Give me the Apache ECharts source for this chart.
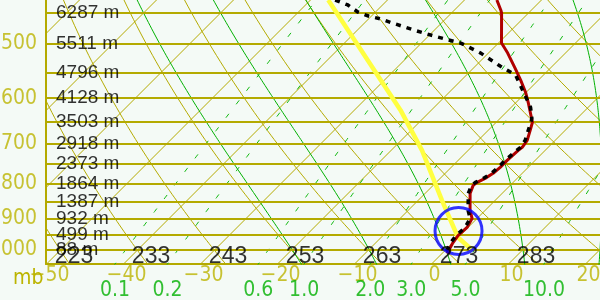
<!DOCTYPE html>
<html><head><meta charset="utf-8">
<script src="https://cdn.jsdelivr.net/npm/echarts@6/dist/echarts.min.js"></script>
<style>html,body{margin:0;padding:0;background:#f4faf6}#c{width:600px;height:300px}</style>
</head><body><div id="c"></div>
<script>
// ---- data ----
const isobars = [450,500,550,600,650,700,750,800,850,900,950,1000];
const heightLabels = ['6287 m','5511 m','4796 m','4128 m','3503 m','2918 m','2373 m','1864 m','1387 m','932 m','499 m','88 m'];
const pressureLabels = [500,600,700,800,900,1000];
const tempTicks = [-50,-40,-30,-20,-10,0,10,20];
const isotherms = [-80,-70,-60,-50,-40,-30,-20,-10,0,10,20];
const thetas = [213,223,233,243,253,263,273,283,293,303,313,323,333,343];
const thetaLabels = [223,233,243,253,263,273,283];
const moistThetaW = [-20,-10,0,10,20];
const mixLines = [0.1,0.2,0.6,1.0,2.0,3.0,5.0,10.0,20.0];
const mixLabels = ['0.1','0.2','0.6','1.0','2.0','3.0','5.0','10.0'];

const tempP = [431,445.7,450.3,498.4,515.5,542.2,564.8,588.2,610.5,640,651,668.9,691.8,708.3,715.6,740.2,757.9,773.4,786.6,797.3,805.4,827.5,876.5,900.5,928.3,953.8,976.6,1013.6];
const tempT = [-25.8,-24.0,-23.5,-19.6,-17.5,-14.6,-12.3,-10.1,-8.3,-6.1,-5.3,-4.55,-3.64,-3.38,-3.5,-3.64,-3.64,-3.77,-4.16,-4.68,-4.8,-4.16,-1.95,-0.65,-0.13,-0.26,0,0.65];
const dewP = [431,438.3,448.8,454.9,459.5,465.7,476.9,488.3,498.4,515.5,538.6,555.3,574.4,598.2,618.8,642.2,651,668.9,691.8,708.3,715.6,740.2,757.9,773.4,786.6,797.3,805.4,827.5,876.5,900.5,928.3,953.8,976.6,1013.6];
const dewT = [-46.8,-44.5,-42.3,-40.4,-38.4,-36.4,-32.7,-28.7,-24.9,-21.0,-16.8,-13.6,-11.7,-9.4,-7.5,-5.9,-5.5,-4.8,-3.9,-3.6,-3.7,-3.9,-3.9,-4.0,-4.4,-4.9,-5.0,-4.4,-2.2,-0.9,-0.4,-0.5,-0.3,0.4];
const parcelP = [1003.4,960.2,847.4,715.6,625.0,431];
const parcelT = [3.6,0,-6.9,-16.0,-24.0,-47.7];
const lclP = [939.4];
const lclT = [-0.78];

// ---- diagram geometry ----
const P_TOP = 431, P_BOT = 1050;
const X_MIN = -51.95, X_MAX = 20.0;
const SKEW = 38.5;
function sx(T, p){ return T + SKEW*Math.log(1000/p); }
function esat(T){ return 6.112*Math.exp(17.67*T/(T+243.5)); }
function tdFromW(w,p){ const e=w*p/(622+w); const L=Math.log(e/6.112); return 243.5*L/(17.67-L); }
function moistGrad(T,p){
  const Rd=287.04, cp=1005.7, Lv=2.501e6, eps=0.622;
  const Tk=T+273.15, es=esat(T), rs=eps*es/(p-es);
  return ((Rd*Tk + Lv*rs)/p)/(cp + Lv*Lv*rs*eps/(Rd*Tk*Tk));
}
function moistLine(tw){
  const up=[], down=[];
  let T=tw, p=1000, dp=-5;
  up.push([sx(T,p),p]);
  while(p>P_TOP-5){
    const k1=moistGrad(T,p), k2=moistGrad(T+k1*dp/2,p+dp/2), k3=moistGrad(T+k2*dp/2,p+dp/2), k4=moistGrad(T+k3*dp,p+dp);
    T += dp*(k1+2*k2+2*k3+k4)/6; p += dp; up.push([sx(T,p),p]);
  }
  T=tw; p=1000; dp=5;
  while(p<P_BOT+5){
    const k1=moistGrad(T,p), k2=moistGrad(T+k1*dp/2,p+dp/2), k3=moistGrad(T+k2*dp/2,p+dp/2), k4=moistGrad(T+k3*dp,p+dp);
    T += dp*(k1+2*k2+2*k3+k4)/6; p += dp; down.push([sx(T,p),p]);
  }
  return down.reverse().concat(up);
}
function pressRange(step){ const a=[]; for(let p=P_BOT+10;p>=P_TOP-10;p-=step) a.push(p); return a; }

const OLIVE='#b4aa00', OLIVE_TXT='#bcb400', GREEN='#00b000', GREEN_DASH='#10b810';
const series=[];
const base={type:'line',showSymbol:false,silent:true,animation:false,clip:true,z:2};

// isobars
series.push(Object.assign({},base,{data:[],markLine:{silent:true,symbol:'none',animation:false,label:{show:false},
  lineStyle:{color:OLIVE,width:2,type:'solid'},data:isobars.map(p=>({yAxis:p}))}}));
// isotherms
isotherms.forEach(T=>series.push(Object.assign({},base,{data:[[sx(T,P_BOT+10),P_BOT+10],[sx(T,P_TOP-10),P_TOP-10]],lineStyle:{color:OLIVE,width:1}})));
// dry adiabats
thetas.forEach(th=>series.push(Object.assign({},base,{data:pressRange(10).map(p=>[sx(th*Math.pow(p/1000,0.2857)-273.15,p),p]),lineStyle:{color:OLIVE,width:1}})));
// moist adiabats
moistThetaW.forEach(tw=>series.push(Object.assign({},base,{data:moistLine(tw),lineStyle:{color:GREEN,width:1}})));
// mixing ratio
mixLines.forEach(w=>series.push(Object.assign({},base,{data:pressRange(10).map(p=>[sx(tdFromW(w,p),p),p]),lineStyle:{color:GREEN_DASH,width:1,type:[5,12]}})));
// parcel
series.push(Object.assign({},base,{z:5,data:parcelP.map((p,i)=>[sx(parcelT[i],p),p]),lineStyle:{color:'#ffff40',width:4.5}}));
// temperature
series.push(Object.assign({},base,{z:6,data:tempP.map((p,i)=>[sx(tempT[i],p),p]),lineStyle:{color:'#b00000',width:3}}));
// dewpoint
series.push(Object.assign({},base,{z:7,data:dewP.map((p,i)=>[sx(dewT[i],p),p]),lineStyle:{color:'#000000',width:3.5,type:[5,6]}}));
// LCL circle
series.push({type:'scatter',silent:true,animation:false,z:8,symbol:'circle',symbolSize:47,
  data:lclP.map((p,i)=>[sx(lclT[i],p),p]),itemStyle:{color:'rgba(0,0,0,0)',borderColor:'#0000ff',borderWidth:3}});

const lbl={type:'scatter',symbolSize:0,silent:true,animation:false,clip:false,z:10};
const NARROW='"Liberation Sans Narrow","DejaVu Sans Condensed",sans-serif';
const THIN='"Liberation Sans",sans-serif';
// pressure labels
series.push(Object.assign({},lbl,{data:pressureLabels.map(p=>({name:String(p),value:[X_MIN,p]})),
  label:{show:true,position:'left',distance:9,formatter:'{b}',color:OLIVE_TXT,fontSize:21,fontFamily:NARROW}}));
// height labels
series.push(Object.assign({},lbl,{data:isobars.map((p,i)=>({name:heightLabels[i],value:[X_MIN,p]})),
  label:{show:true,position:'right',distance:10,formatter:'{b}',color:'#000',fontSize:19,fontFamily:THIN}}));
// theta labels at 1000 mb
series.push(Object.assign({},lbl,{data:thetaLabels.map(th=>({name:String(th),value:[sx(th-273.15,1000),1000]})),
  label:{show:true,position:'inside',align:'left',verticalAlign:'middle',offset:[-5,7],formatter:'{b}',color:'#000',fontSize:23,fontFamily:THIN}}));
// temperature tick labels
series.push(Object.assign({},lbl,{data:tempTicks.map(T=>({name:(T<0?'\u2212'+(-T):String(T)),value:[sx(T,P_BOT),P_BOT]})),
  label:{show:true,position:'inside',align:'center',verticalAlign:'middle',offset:[3,12],formatter:'{b}',color:OLIVE_TXT,fontSize:21,fontFamily:NARROW}}));
// mixing ratio labels
series.push(Object.assign({},lbl,{data:mixLabels.map(w=>({name:w,value:[sx(tdFromW(parseFloat(w),P_BOT),P_BOT),P_BOT]})),
  label:{show:true,position:'inside',align:'center',verticalAlign:'middle',offset:[0,27],formatter:'{b}',color:GREEN,fontSize:21,fontFamily:NARROW}}));

const chart=echarts.init(document.getElementById('c'),null,{renderer:'canvas'});
chart.setOption({
  backgroundColor:'#f4faf6',
  animation:false,
  grid:{left:46,right:0,top:0,bottom:36,containLabel:false},
  xAxis:{type:'value',min:X_MIN,max:X_MAX,axisLabel:{show:false},axisTick:{show:false},splitLine:{show:false},
    axisLine:{show:true,onZero:false,lineStyle:{color:OLIVE,width:2}}},
  yAxis:{type:'log',min:P_TOP,max:P_BOT,inverse:true,axisLabel:{show:false},axisTick:{show:false},splitLine:{show:false},
    axisLine:{show:true,onZero:false,lineStyle:{color:OLIVE,width:2}}},
  graphic:[{type:'text',left:13,top:268,style:{text:'mb',fill:OLIVE_TXT,font:'21px '+NARROW}}],
  series:series
});
</script></body></html>
